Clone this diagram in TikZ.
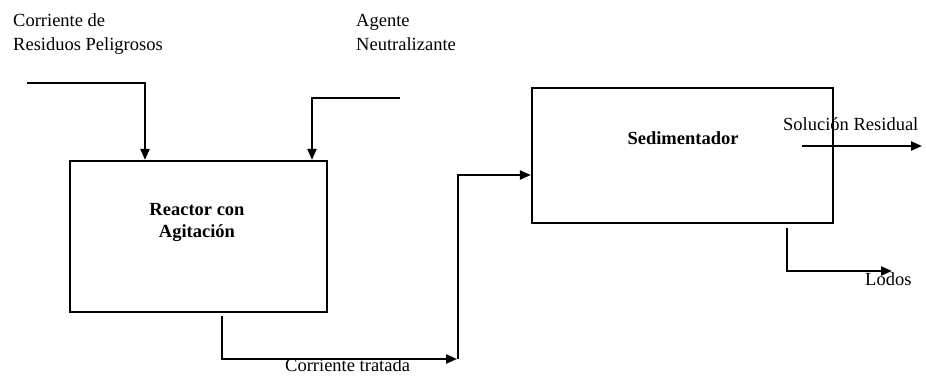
\documentclass[tikz,border=0pt]{standalone}
\usepackage{fontspec}
\setmainfont{Liberation Serif}
\usetikzlibrary{arrows.meta}
\begin{document}
\begin{tikzpicture}[x=1pt,y=-1pt,
  box/.style={draw,line width=2.2pt,inner sep=0pt},
  flow/.style={line width=2.2pt,-{Triangle[length=11pt,width=9pt]}},
  lbl/.style={inner sep=0pt,font=\fontsize{18.5}{24}\selectfont},
  blbl/.style={inner sep=0pt,font=\fontsize{18.5}{22}\selectfont\bfseries,align=center}]
\useasboundingbox (0,0) rectangle (926,376);
% boxes
\node[box,minimum width=257pt,minimum height=151pt] (reactor) at (198.5,236.5) {};
\node[box,minimum width=301pt,minimum height=135pt] (sed) at (682.5,155.5) {};
\node[blbl,anchor=base] (rlab) at (197,237) {Reactor con\\Agitación};
\node[blbl,anchor=base] (slab) at (683,144) {Sedimentador};
% labels
\node[lbl,anchor=base west,align=left] (t1) at (13,50) {Corriente de\\Residuos Peligrosos};
\node[lbl,anchor=base west,align=left] (t2) at (356,50) {Agente\\Neutralizante};
\node[lbl,anchor=base west] (t3) at (783,130) {Solución Residual};
\node[lbl,anchor=base west] (t4) at (865,285) {Lodos};
\node[lbl,anchor=base west] (t5) at (285,371) {Corriente tratada};
% coordinates
\coordinate (in1) at (27,83);
\coordinate (c1) at (145,83);
\coordinate (in2) at (400,98);
\coordinate (c2) at (312,98);
\coordinate (o1) at (222,316);
\coordinate (o2) at (457,359);
\coordinate (c3) at (458,175);
\coordinate (s1) at (802,146);
\coordinate (s2) at (922,146);
\coordinate (l1) at (787,228);
\coordinate (l2) at (892,271);
% connectors
\draw[flow] (in1) -- (c1) -- (c1 |- reactor.north);
\draw[flow] (in2) -- (c2) -- (c2 |- reactor.north);
\draw[flow] (o1) |- (o2);
\draw[flow] (o2 -| c3) -- (c3) -- (c3 -| sed.west);
\draw[flow] (s1) -- (s2);
\draw[flow] (l1) |- (l2);
\end{tikzpicture}
\end{document}
